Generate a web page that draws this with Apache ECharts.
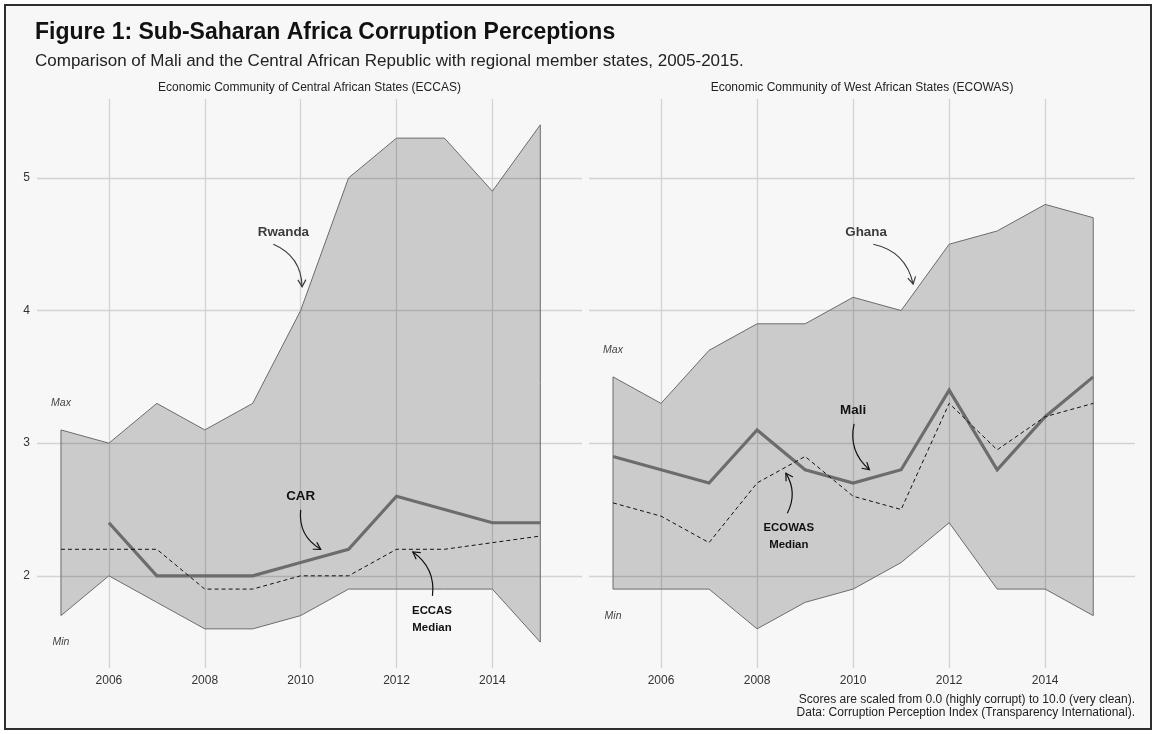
<!DOCTYPE html>
<html><head><meta charset="utf-8">
<script src="https://cdn.jsdelivr.net/npm/echarts@6/dist/echarts.min.js"></script>
<style>
html,body{margin:0;padding:0;background:#ffffff;}
#frame{position:absolute;left:4px;top:4px;width:1144px;height:722px;border:2px solid #2e2e2e;background:#f7f7f7;}
#chart{position:absolute;left:0;top:0;width:1153px;height:734px;}
</style></head><body>
<div id="frame"></div><div id="chart"></div>
<script>
// ---------- data ----------
const years = [2005,2006,2007,2008,2009,2010,2011,2012,2013,2014,2015];
const eccasMax    = [3.1,3.0,3.3,3.1,3.3,4.0,5.0,5.3,5.3,4.9,5.4];
const eccasMin    = [1.7,2.0,1.8,1.6,1.6,1.7,1.9,1.9,1.9,1.9,1.5];
const eccasMedian = [2.2,2.2,2.2,1.9,1.9,2.0,2.0,2.2,2.2,2.25,2.3];
const car         = [null,2.4,2.0,2.0,2.0,2.1,2.2,2.6,2.5,2.4,2.4];
const ecowasMax    = [3.5,3.3,3.7,3.9,3.9,4.1,4.0,4.5,4.6,4.8,4.7];
const ecowasMin    = [1.9,1.9,1.9,1.6,1.8,1.9,2.1,2.4,1.9,1.9,1.7];
const ecowasMedian = [2.55,2.45,2.25,2.7,2.9,2.6,2.5,3.3,2.95,3.2,3.3];
const mali         = [2.9,2.8,2.7,3.1,2.8,2.7,2.8,3.4,2.8,3.2,3.5];
const xTicks = [2006,2008,2010,2012,2014];
const yTicks = [2,3,4,5];
const panelTitles = ['Economic Community of Central African States (ECCAS)','Economic Community of West African States (ECOWAS)'];
const titleText = 'Figure 1: Sub-Saharan Africa Corruption Perceptions';
const subtitleText = 'Comparison of Mali and the Central African Republic with regional member states, 2005-2015.';
const captionLines = ['Scores are scaled from 0.0 (highly corrupt) to 10.0 (very clean).','Data: Corruption Perception Index (Transparency International).'];

// ---------- layout ----------
const FONT = '"Liberation Sans", Arial, Helvetica, sans-serif';
const GRID_TOP = 99, GRID_BOTTOM = 66;
const grids = [{left:37, width:545}, {left:589, width:546}];
const X_MIN = 2004.5, X_MAX = 2015.87, Y_MIN = 1.305, Y_MAX = 5.595;

const panels = [
  {max:eccasMax, min:eccasMin, median:eccasMedian, country:car},
  {max:ecowasMax, min:ecowasMin, median:ecowasMedian, country:mali}
];

function pairs(arr){ return years.map((y,i)=>[y, arr[i]]); }

function ribbon(gi, maxArr, minArr){
  return {
    type:'custom', xAxisIndex:gi, yAxisIndex:gi, z:1, silent:true,
    data: years.map((y,i)=>[y, minArr[i], maxArr[i]]),
    encode:{x:0, y:[1,2]},
    clip:true,
    renderItem:function(params, api){
      if (params.dataIndex !== 0) return null;
      const pts = [];
      for (let i=0;i<years.length;i++) pts.push(api.coord([years[i], maxArr[i]]));
      for (let i=years.length-1;i>=0;i--) pts.push(api.coord([years[i], minArr[i]]));
      return {type:'polygon', shape:{points:pts},
        style:{fill:'rgba(0,0,0,0.175)', stroke:'#6a6a6a', lineWidth:1}};
    }
  };
}

const series = [];
panels.forEach((p,gi)=>{
  series.push(ribbon(gi, p.max, p.min));
  series.push({type:'line', xAxisIndex:gi, yAxisIndex:gi, z:3, silent:true,
    data:pairs(p.country), showSymbol:false, connectNulls:false,
    lineStyle:{color:'#6c6c6c', width:3.2, join:'miter'}});
  series.push({type:'line', xAxisIndex:gi, yAxisIndex:gi, z:4, silent:true,
    data:pairs(p.median), showSymbol:false,
    lineStyle:{color:'#111', width:1, type:[4,3]}});
});

const option = {
  animation:false,
  backgroundColor:'transparent',
  grid: grids.map(g=>({left:g.left, width:g.width, top:GRID_TOP, bottom:GRID_BOTTOM})),
  xAxis: [0,1].map(i=>({type:'value', gridIndex:i, min:X_MIN, max:X_MAX,
    axisLine:{show:false}, axisTick:{show:false, customValues:xTicks},
    axisLabel:{customValues:xTicks, formatter:v=>String(v), color:'#333', fontSize:12, margin:7, fontFamily:FONT},
    splitLine:{show:true, lineStyle:{color:'#d3d3d3', width:1.3}}})),
  yAxis: [0,1].map(i=>({type:'value', gridIndex:i, min:Y_MIN, max:Y_MAX,
    axisLine:{show:false}, axisTick:{show:false, customValues:yTicks},
    axisLabel:{show:i===0, customValues:yTicks, formatter:v=>String(v), color:'#333', fontSize:12, margin:7, fontFamily:FONT},
    splitLine:{show:true, lineStyle:{color:'#d3d3d3', width:1.3}}})),
  series: series
};

const chart = echarts.init(document.getElementById('chart'), null, {renderer:'canvas'});
chart.setOption(option);

// ---------- annotations ----------
const annotations = [
  {grid:0, text:'Rwanda', pos:[2009.64,4.59], from:[2009.43,4.50], to:[2010.03,4.18], bend:-0.32, color:'#3c3c3c', size:13.4},
  {grid:1, text:'Ghana',  pos:[2010.27,4.59], from:[2010.42,4.50], to:[2011.25,4.20], bend:-0.32, color:'#3c3c3c', size:13.4},
  {grid:0, text:'CAR',    pos:[2010.0,2.60],  from:[2010.0,2.497], to:[2010.42,2.20], bend:0.32, color:'#111', size:13.4},
  {grid:1, text:'Mali',   pos:[2010.0,3.246], from:[2010.02,3.145], to:[2010.34,2.80], bend:0.3, color:'#111', size:13.4},
  {grid:0, text:'ECCAS\nMedian',  pos:[2012.74,1.668], from:[2012.75,1.849], to:[2012.34,2.18], bend:0.3, color:'#111', size:11.4},
  {grid:1, text:'ECOWAS\nMedian', pos:[2008.66,2.30],  from:[2008.63,2.472], to:[2008.60,2.774], bend:0.28, color:'#111', size:11.4}
];

const gfx = [];
function px(gi, pt){ return chart.convertToPixel({gridIndex:gi}, pt); }

annotations.forEach(a=>{
  const c = px(a.grid, a.pos);
  gfx.push({type:'text', x:c[0], y:c[1], z:10, style:{text:a.text, fill:a.color, font:'bold '+a.size+'px '+FONT,
    align:'center', verticalAlign:'middle', lineHeight:17}});
  const s = px(a.grid, a.from), e = px(a.grid, a.to);
  const dx = e[0]-s[0], dy = e[1]-s[1], len = Math.hypot(dx,dy);
  const nx = -dy/len, ny = dx/len;
  const cx = (s[0]+e[0])/2 + nx*a.bend*len, cy = (s[1]+e[1])/2 + ny*a.bend*len;
  gfx.push({type:'bezierCurve', z:10, shape:{x1:s[0], y1:s[1], x2:e[0], y2:e[1], cpx1:cx, cpy1:cy},
    style:{stroke:a.color, lineWidth:1.2, fill:null}});
  // arrow head
  const tx = e[0]-cx, ty = e[1]-cy, tl = Math.hypot(tx,ty);
  const ux = tx/tl, uy = ty/tl, L = 8, ang = Math.PI/6;
  const p1 = [e[0] - L*(ux*Math.cos(ang) - uy*Math.sin(ang)), e[1] - L*(uy*Math.cos(ang) + ux*Math.sin(ang))];
  const p2 = [e[0] - L*(ux*Math.cos(-ang) - uy*Math.sin(-ang)), e[1] - L*(uy*Math.cos(-ang) + ux*Math.sin(-ang))];
  gfx.push({type:'polyline', z:10, shape:{points:[p1, e, p2]}, style:{stroke:a.color, lineWidth:1.2, fill:null}});
});

// Max / Min labels
panels.forEach((p,gi)=>{
  const mx = px(gi, [years[0], p.max[0]+0.2]);
  const mn = px(gi, [years[0], p.min[0]-0.2]);
  gfx.push({type:'text', x:mx[0], y:mx[1], z:10, style:{text:'Max', fill:'#444', font:'italic 10.5px '+FONT, align:'center', verticalAlign:'middle'}});
  gfx.push({type:'text', x:mn[0], y:mn[1], z:10, style:{text:'Min', fill:'#444', font:'italic 10.5px '+FONT, align:'center', verticalAlign:'middle'}});
});

// strip titles
grids.forEach((g,gi)=>{
  gfx.push({type:'text', x:g.left+g.width/2, y:88, style:{text:panelTitles[gi], fill:'#222', font:'12px '+FONT, align:'center', verticalAlign:'middle'}});
});
// title, subtitle, caption
gfx.push({type:'text', x:35, y:33, style:{text:titleText, fill:'#111', font:'bold 23px '+FONT, align:'left', verticalAlign:'middle'}});
gfx.push({type:'text', x:35, y:61, style:{text:subtitleText, fill:'#222', font:'17px '+FONT, align:'left', verticalAlign:'middle'}});
const capRight = grids[1].left + grids[1].width;
gfx.push({type:'text', x:capRight, y:700, style:{text:captionLines[0], fill:'#222', font:'12px '+FONT, align:'right', verticalAlign:'middle'}});
gfx.push({type:'text', x:capRight, y:713, style:{text:captionLines[1], fill:'#222', font:'12px '+FONT, align:'right', verticalAlign:'middle'}});

chart.setOption({graphic:{elements:gfx}});
</script>
</body></html>
